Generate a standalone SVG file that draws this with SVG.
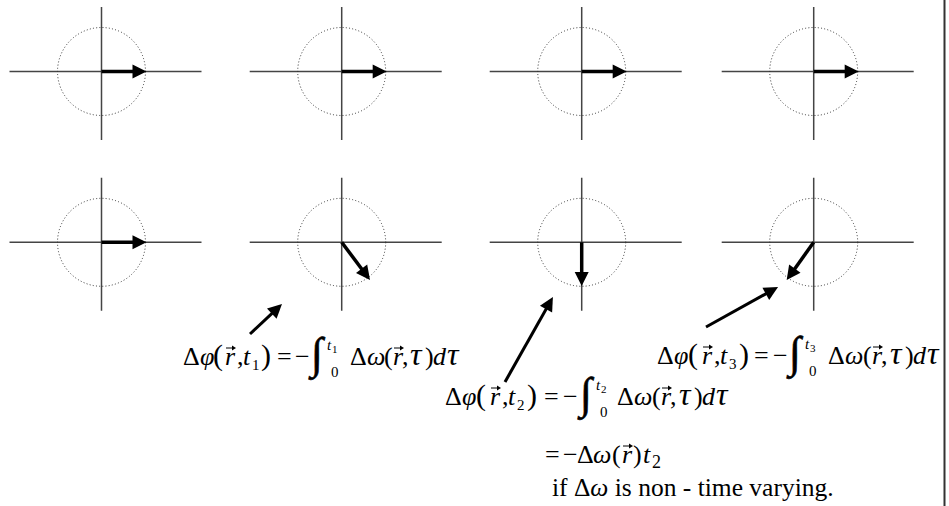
<svg xmlns="http://www.w3.org/2000/svg" width="949" height="506" viewBox="0 0 949 506">
<style>
.ax{stroke:#444;stroke-width:1.5;fill:none}
.ci{stroke:#333;stroke-width:1;stroke-dasharray:1 2.2;fill:none}
.ar{stroke:#000;stroke-width:3.5;fill:none;marker-end:url(#hd)}
.pt{stroke:#000;stroke-width:3;fill:none;marker-end:url(#hd)}
.m{font-family:"Liberation Serif","Times New Roman",serif;font-size:26px;fill:#000}
.i{font-style:italic}
.bp{font-size:30px}
.s{font-size:15px}
.ss{font-size:11px}
.int{font-size:44px;stroke:#000;stroke-width:0.6}
.tau{font-size:32px;font-style:italic}
.vl{stroke:#000;stroke-width:1;fill:none}
</style>
<defs>
<marker id="hd" markerUnits="userSpaceOnUse" markerWidth="16" markerHeight="16" refX="4" refY="7" orient="auto" overflow="visible">
<path d="M0,0 L14,7 L0,14 z" fill="#000"/>
</marker>
<g id="vec"><path d="M0,0 H7" class="vl"/><path d="M6,-2.5 L10,0 L6,2.5 z" fill="#000"/></g>
<g id="axes">
<path class="ax" d="M-92,0 H100 M0,-64.5 V68.5"/>
<circle class="ci" cx="0" cy="0" r="44"/>
</g>
</defs>

<g id="p11" transform="translate(101.5,71.5)"><use href="#axes"/><path class="ar" d="M0,0 H35"/></g>
<g id="p12" transform="translate(341.7,71.5)"><use href="#axes"/><path class="ar" d="M0,0 H35"/></g>
<g id="p13" transform="translate(581.7,71.5)"><use href="#axes"/><path class="ar" d="M0,0 H35"/></g>
<g id="p14" transform="translate(813.7,71.5)"><use href="#axes"/><path class="ar" d="M0,0 H35"/></g>

<g id="p21" transform="translate(101.5,242.3)"><use href="#axes"/><path class="ar" d="M0,0 H35"/></g>
<g id="p22" transform="translate(341.7,242.3)"><use href="#axes"/><path class="ar" d="M0,0 L22.3,29.7"/></g>
<g id="p23" transform="translate(581.7,242.3)"><use href="#axes"/><path class="ar" d="M0,0 V33.7"/></g>
<g id="p24" transform="translate(813.7,242.3)"><use href="#axes"/><path class="ar" d="M0,0 L-21.2,29.6"/></g>

<g id="connectors">
<path class="pt" d="M250,334 L274.7,310.8"/>
<path class="pt" d="M505,382 L548,305.7"/>
<path class="pt" d="M706,327 L769.3,291.9"/>
</g>

<line id="border" x1="944.5" y1="0" x2="944.5" y2="506" stroke="#333" stroke-width="2"/>

<g id="eq1" transform="translate(183,365)">
<text class="m"><tspan x="0" y="0">Δ</tspan><tspan x="17" class="i">φ</tspan><tspan x="30" class="bp">(</tspan><tspan x="42" class="i">r</tspan><tspan x="54">,</tspan><tspan x="60" class="i">t</tspan><tspan x="69" y="5" class="s">1</tspan><tspan x="78" y="0" class="bp">)</tspan><tspan x="94">=</tspan><tspan x="112">−</tspan><tspan x="128" y="3" class="int">∫</tspan><tspan x="144" y="-15" class="s i">t</tspan><tspan x="149" y="-12" class="ss">1</tspan><tspan x="148" y="12" class="s">0</tspan><tspan x="167" y="0">Δ</tspan><tspan x="184" class="i">ω</tspan><tspan x="201">(</tspan><tspan x="210" class="i">r</tspan><tspan x="219">,</tspan><tspan x="227" class="tau">τ</tspan><tspan x="242">)</tspan><tspan x="250" class="i">d</tspan><tspan x="264" class="tau">τ</tspan></text>
<use href="#vec" x="43" y="-17"/><use href="#vec" x="211" y="-17"/>
</g>

<g id="eq2" transform="translate(445,405)">
<text class="m"><tspan x="0" y="0">Δ</tspan><tspan x="17" class="i">φ</tspan><tspan x="31" class="bp">(</tspan><tspan x="45" class="i">r</tspan><tspan x="57">,</tspan><tspan x="63" class="i">t</tspan><tspan x="72" y="5" class="s">2</tspan><tspan x="82" y="0" class="bp">)</tspan><tspan x="99">=</tspan><tspan x="118">−</tspan><tspan x="135" y="3" class="int">∫</tspan><tspan x="151" y="-15" class="s i">t</tspan><tspan x="156" y="-12" class="ss">2</tspan><tspan x="155" y="12" class="s">0</tspan><tspan x="172" y="0">Δ</tspan><tspan x="189" class="i">ω</tspan><tspan x="207">(</tspan><tspan x="216" class="i">r</tspan><tspan x="225">,</tspan><tspan x="234" class="tau">τ</tspan><tspan x="249">)</tspan><tspan x="257" class="i">d</tspan><tspan x="271" class="tau">τ</tspan></text>
<use href="#vec" x="46" y="-17"/><use href="#vec" x="217" y="-17"/>
</g>

<g id="eq2b" transform="translate(545,463)">
<text class="m"><tspan x="0" y="0">=</tspan><tspan x="18">−</tspan><tspan x="32">Δ</tspan><tspan x="48" class="i">ω</tspan><tspan x="67">(</tspan><tspan x="77" class="i">r</tspan><tspan x="88">)</tspan><tspan x="98" class="i">t</tspan><tspan x="107" y="5" style="font-size:18px">2</tspan></text>
<use href="#vec" x="78" y="-17"/>
</g>

<g id="eq2c">
<text class="m" x="552" y="496" style="font-size:25.5px">if Δ<tspan class="i">ω</tspan> is non - time varying.</text>
</g>

<g id="eq3" transform="translate(657,364)">
<text class="m"><tspan x="0" y="0">Δ</tspan><tspan x="17" class="i">φ</tspan><tspan x="31" class="bp">(</tspan><tspan x="45" class="i">r</tspan><tspan x="57">,</tspan><tspan x="63" class="i">t</tspan><tspan x="72" y="5" class="s">3</tspan><tspan x="82" y="0" class="bp">)</tspan><tspan x="97">=</tspan><tspan x="116">−</tspan><tspan x="132" y="3" class="int">∫</tspan><tspan x="148" y="-15" class="s i">t</tspan><tspan x="153" y="-12" class="ss">3</tspan><tspan x="152" y="12" class="s">0</tspan><tspan x="171" y="0">Δ</tspan><tspan x="188" class="i">ω</tspan><tspan x="206">(</tspan><tspan x="215" class="i">r</tspan><tspan x="224">,</tspan><tspan x="233" class="tau">τ</tspan><tspan x="248">)</tspan><tspan x="256" class="i">d</tspan><tspan x="270" class="tau">τ</tspan></text>
<use href="#vec" x="46" y="-17"/><use href="#vec" x="216" y="-17"/>
</g>
</svg>
